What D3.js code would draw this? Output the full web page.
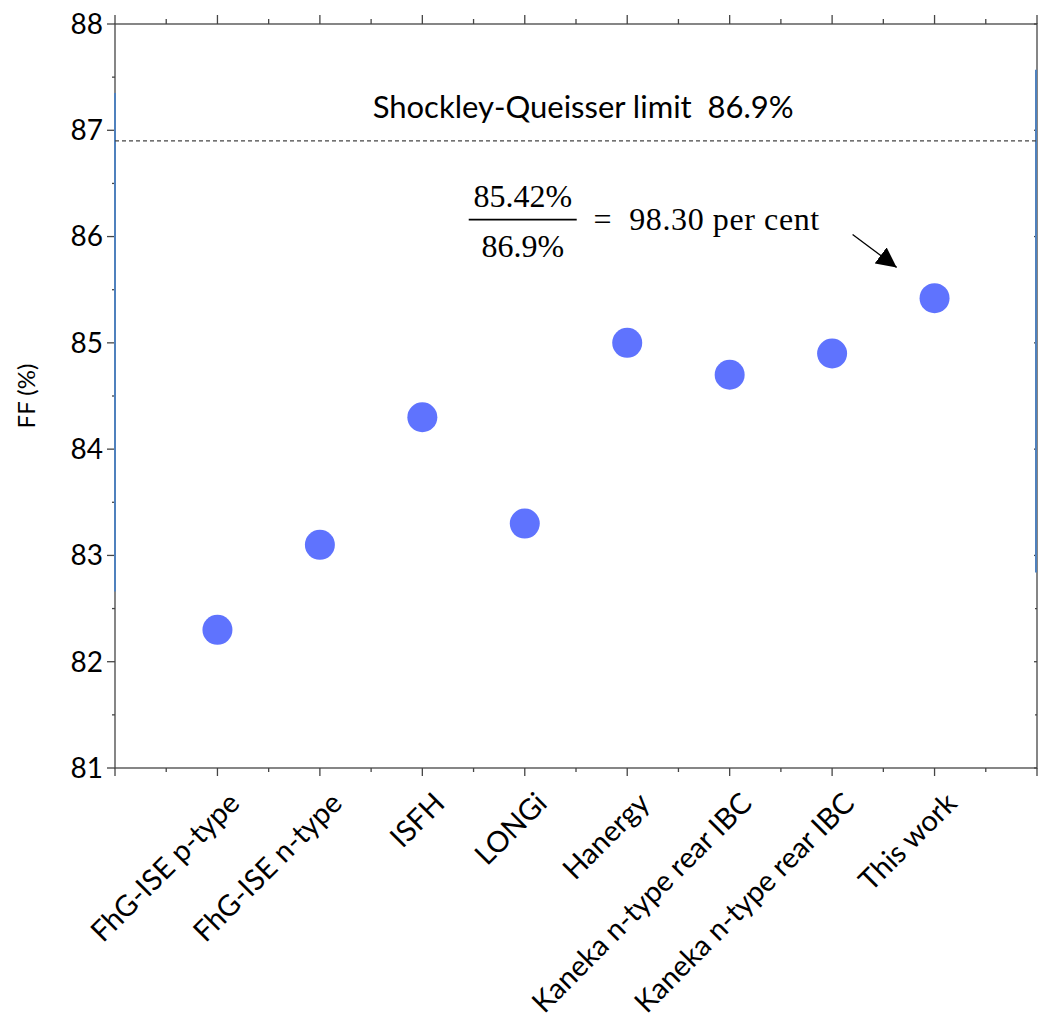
<!DOCTYPE html>
<html>
<head>
<meta charset="utf-8">
<script src="https://cdn.jsdelivr.net/npm/d3@7"></script>
<style>
  body { margin: 0; background: #fff; }
  text { font-family: Lato, "Open Sans", sans-serif; fill: #000; white-space: pre; }
  .serif { font-family: "Liberation Serif", "Times New Roman", serif; }
</style>
</head>
<body>
<div class="graph"></div>
<script>
// data
const labs = ["FhG-ISE p-type", "FhG-ISE n-type", "ISFH", "LONGi", "Hanergy",
    "Kaneka n-type rear IBC", "Kaneka n-type rear IBC", "This work"];
const ff = [82.3, 83.1, 84.3, 83.3, 85.0, 84.7, 84.9, 85.42];
const yTicks = [81, 82, 83, 84, 85, 86, 87, 88];
const sqLimit = 86.9;

let margin = {top: 24, right: 2, bottom: 252, left: 115},
    W = 1039, H = 1020,
    width = W - margin.left - margin.right,
    height = H - margin.top - margin.bottom;

let svg = d3.select(".graph").append("svg")
    .attr("width", W).attr("height", H);

let g = svg.append("g")
    .attr("transform", "translate(" + margin.left + "," + margin.top + ")");

let x = d3.scaleLinear().domain([0, labs.length + 1]).range([0, width]);
let y = d3.scaleLinear().domain([81, 88]).range([height, 0]);

const axisCol = "#454545";
let majX = d3.range(0, labs.length + 2);
let minX = d3.range(0.5, labs.length + 1, 1);
let minY = d3.range(81.5, 88, 1);

// frame
g.append("rect").attr("width", width).attr("height", height)
    .attr("fill", "none").attr("stroke", axisCol).attr("stroke-width", 1.3);

// bottom / top ticks
let tk = g.append("g").attr("stroke", axisCol).attr("stroke-width", 1.3);
majX.forEach(v => {
    tk.append("line").attr("x1", x(v)).attr("x2", x(v)).attr("y1", height).attr("y2", height + 8);
    tk.append("line").attr("x1", x(v)).attr("x2", x(v)).attr("y1", 0).attr("y2", -9);
});
minX.forEach(v => {
    tk.append("line").attr("x1", x(v)).attr("x2", x(v)).attr("y1", height).attr("y2", height + 4);
    tk.append("line").attr("x1", x(v)).attr("x2", x(v)).attr("y1", 0).attr("y2", -5);
});
// left / right ticks
yTicks.forEach(v => {
    tk.append("line").attr("x1", 0).attr("x2", -8).attr("y1", y(v)).attr("y2", y(v));
    tk.append("line").attr("x1", width).attr("x2", width - 3).attr("y1", y(v)).attr("y2", y(v));
});
minY.forEach(v => {
    tk.append("line").attr("x1", 0).attr("x2", -3).attr("y1", y(v)).attr("y2", y(v));
    tk.append("line").attr("x1", width).attr("x2", width - 2).attr("y1", y(v)).attr("y2", y(v));
});

// y tick labels
g.selectAll(".ylab").data(yTicks).join("text")
    .attr("class", "ylab")
    .attr("x", -12).attr("y", d => y(d))
    .attr("dy", "0.35em")
    .attr("text-anchor", "end")
    .style("font-size", "28px")
    .text(d => d);

// x tick labels, rotated
g.selectAll(".xlab").data(labs).join("text")
    .attr("class", "xlab")
    .attr("text-anchor", "end")
    .attr("transform", (d, i) => "translate(" + (x(i + 1) + 24) + "," + (height + 37) + ") rotate(-45)")
    .style("font-size", "29px")
    .text(d => d);

// y label
g.append("text")
    .attr("transform", "translate(-80," + y(84.5) + ") rotate(-90)")
    .attr("text-anchor", "middle")
    .style("font-size", "24px")
    .text("FF (%)");

// stray blue lines on the sides
g.append("line").attr("x1", 0).attr("x2", 0).attr("y1", y(87.35)).attr("y2", y(82.66))
    .attr("stroke", "#4f81bd").attr("stroke-width", 2);
g.append("line").attr("x1", width - 1).attr("x2", width - 1).attr("y1", y(87.57)).attr("y2", y(82.84))
    .attr("stroke", "#4f81bd").attr("stroke-width", 2);

// Shockley-Queisser line
g.append("line").attr("x1", 0).attr("x2", width)
    .attr("y1", y(sqLimit)).attr("y2", y(sqLimit))
    .attr("stroke", "#444").attr("stroke-width", 1.2)
    .attr("stroke-dasharray", "4,3");
g.append("text")
    .attr("x", x(4.57)).attr("y", y(87.12))
    .attr("text-anchor", "middle")
    .style("font-size", "31px")
    .text("Shockley-Queisser limit  86.9%");

// points
g.selectAll(".pt").data(ff).join("circle")
    .attr("class", "pt")
    .attr("cx", (d, i) => x(i + 1))
    .attr("cy", d => y(d))
    .attr("r", 15)
    .attr("fill", "#5f73fe");

// formula annotation
let fx = x(3.98);
g.append("text").attr("class", "serif")
    .attr("x", fx).attr("y", y(86.28)).attr("text-anchor", "middle")
    .style("font-size", "32px").text("85.42%");
g.append("line").attr("x1", fx - 54).attr("x2", fx + 54)
    .attr("y1", y(86.16)).attr("y2", y(86.16))
    .attr("stroke", "#000").attr("stroke-width", 1.8);
g.append("text").attr("class", "serif")
    .attr("x", fx).attr("y", y(85.81)).attr("text-anchor", "middle")
    .style("font-size", "32px").text("86.9%");
g.append("text").attr("class", "serif")
    .attr("x", x(4.67)).attr("y", y(86.06))
    .style("font-size", "32px").style("letter-spacing", "0.6px")
    .text("=  98.30 per cent");

// arrow
svg.append("defs").append("marker")
    .attr("id", "ah").attr("viewBox", "0 0 10 10")
    .attr("refX", 10).attr("refY", 5)
    .attr("markerWidth", 20).attr("markerHeight", 20)
    .attr("markerUnits", "userSpaceOnUse")
    .attr("orient", "auto")
    .append("path").attr("d", "M0,0 L10,5 L0,10 Z").attr("fill", "#000");
g.append("line")
    .attr("x1", x(7.2)).attr("y1", y(86.02))
    .attr("x2", x(7.63)).attr("y2", y(85.71))
    .attr("stroke", "#000").attr("stroke-width", 1.3)
    .attr("marker-end", "url(#ah)");
</script>
</body>
</html>
